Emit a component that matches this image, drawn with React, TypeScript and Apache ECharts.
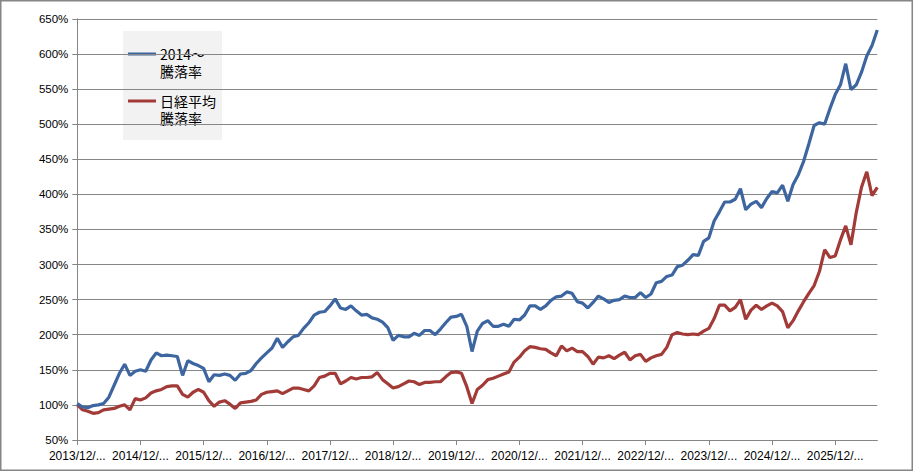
import React, { useEffect, useRef } from 'react';
import * as echarts from 'echarts';

// Monthly samples (index 0 = 2013/12)
const startYear = 2013;
const startMonth = 12;

const seriesNames = ['2014～騰落率', '日経平均騰落率'];
const legendLines1 = ['2014～', '騰落率'];
const legendLines2 = ['日経平均', '騰落率'];

const blueValues = [
  102, 97, 96, 99, 100, 102, 111, 128, 145, 158,
  142, 148, 150, 148, 164, 174, 170, 171, 170, 169,
  142, 163, 159, 156, 152, 133, 143, 142, 144, 142,
  135, 144, 145, 149, 159, 167, 174, 181, 195, 182,
  190, 197, 199, 209, 217, 228, 232, 233, 241, 251,
  238, 236, 241, 234, 228, 229, 224, 222, 218, 210,
  192, 199, 197, 197, 202, 199, 206, 206, 200, 208,
  217, 225, 226, 229, 212, 176, 205, 216, 220, 212,
  212, 215, 212, 222, 221, 228, 241, 241, 236, 241,
  249, 254, 255, 261, 259, 247, 245, 238, 246, 255,
  251, 246, 249, 250, 255, 253, 253, 260, 253, 258,
  274, 276, 283, 285, 297, 299, 306, 314, 313, 333,
  338, 362, 375, 389, 389, 393, 408, 378, 386, 390,
  381, 394, 404, 402, 413, 390, 414, 428, 447, 472,
  498, 502, 500, 522, 542, 556, 586, 549, 556, 574,
  597, 612, 634,
];

const redValues = [
  100, 93, 91, 88, 89, 93, 94, 95, 98, 100,
  93, 109, 107, 110, 117, 120, 122, 126, 127, 127,
  115, 111, 118, 122, 118, 106, 98, 104, 106, 101,
  95, 103, 104, 105, 107, 115, 118, 119, 120, 116,
  120, 124, 124, 122, 120, 127, 139, 141, 145, 145,
  130, 134, 139, 137, 139, 139, 140, 146, 136, 130,
  124, 126, 130, 134, 133, 129, 132, 132, 133, 133,
  140, 146, 147, 145, 126, 102, 122, 128, 136, 138,
  141, 144, 147, 161, 168, 177, 183, 182, 180, 179,
  174, 170, 184, 177, 181, 176, 176, 169, 158, 168,
  167, 170, 166, 171, 175, 164, 170, 172, 162, 167,
  170, 172, 182, 200, 203, 201, 200, 201, 200, 205,
  209, 223, 242, 242, 234, 239, 250, 222, 235, 242,
  236, 241, 245, 241, 233, 210, 220, 234, 247, 259,
  270, 290, 321, 310, 312, 335, 355, 328, 374, 410,
  432, 398, 410,
];

const categories = blueValues.map((_, i) => {
  const m0 = startMonth - 1 + i;
  const y = startYear + Math.floor(m0 / 12);
  const m = (m0 % 12) + 1;
  return `${y}/${String(m).padStart(2, '0')}/01`;
});

const yTicks = { min: 50, max: 650, interval: 50 };

const BLUE = '#3d66a1';
const RED = '#a23b38';
const GRAY = '#868686';

const legendText = (text: string, y: number) => ({
  type: 'text',
  x: 160,
  y,
  style: {
    text,
    fill: '#000',
    fontSize: 14,
    lineHeight: 15,
    fontFamily: 'Noto Sans CJK JP, sans-serif',
    verticalAlign: 'middle',
    align: 'left',
  },
});

export default function App() {
  const ref = useRef<HTMLDivElement>(null);
  useEffect(() => {
    if (!ref.current) return;
    const chart = echarts.init(ref.current, undefined, { renderer: 'svg' });
    chart.setOption({
      animation: false,
      backgroundColor: '#ffffff',
      grid: { left: 77.3, right: 36.7, top: 18.8, bottom: 31, containLabel: false },
      xAxis: {
        type: 'category',
        data: categories,
        boundaryGap: false,
        axisLine: { lineStyle: { color: GRAY, width: 1 } },
        axisTick: { show: true, interval: 11, length: 5, lineStyle: { color: GRAY } },
        axisLabel: {
          interval: 11,
          margin: 10,
          color: '#000',
          fontFamily: 'Liberation Sans, Arial, sans-serif',
          fontSize: 12,
          formatter: (v: string) => v.slice(0, 8) + '...',
        },
        splitLine: { show: false },
      },
      yAxis: {
        type: 'value',
        min: yTicks.min,
        max: yTicks.max,
        interval: yTicks.interval,
        axisLine: { show: true, lineStyle: { color: GRAY, width: 1 } },
        axisTick: { show: true, length: 5, lineStyle: { color: GRAY } },
        axisLabel: {
          margin: 9,
          color: '#000',
          fontFamily: 'Liberation Sans, Arial, sans-serif',
          fontSize: 11.5,
          formatter: '{value}%',
        },
        splitLine: { show: true, lineStyle: { color: GRAY, width: 1 } },
      },
      series: [
        {
          name: seriesNames[0],
          type: 'line',
          data: blueValues,
          showSymbol: false,
          symbol: 'none',
          lineStyle: { color: BLUE, width: 3.2 },
          itemStyle: { color: BLUE },
          z: 3,
        },
        {
          name: seriesNames[1],
          type: 'line',
          data: redValues,
          showSymbol: false,
          symbol: 'none',
          lineStyle: { color: RED, width: 3.2 },
          itemStyle: { color: RED },
          z: 2,
        },
      ],
      graphic: [
        {
          type: 'rect',
          z: 0,
          silent: true,
          shape: { x: 0.75, y: 0.75, width: 911.5, height: 469.5 },
          style: { fill: 'none', stroke: GRAY, lineWidth: 1.5 },
        },
        {
          type: 'group',
          z: 100,
          children: [
            {
              type: 'rect',
              shape: { x: 123, y: 31, width: 99, height: 109 },
              style: { fill: '#f2f2f2' },
            },
            {
              type: 'line',
              shape: { x1: 128, y1: 54, x2: 156, y2: 54 },
              style: { stroke: BLUE, lineWidth: 3 },
            },
            legendText(legendLines1[0], 54),
            legendText(legendLines1[1], 71),
            {
              type: 'line',
              shape: { x1: 128, y1: 101, x2: 156, y2: 101 },
              style: { stroke: RED, lineWidth: 3 },
            },
            legendText(legendLines2[0], 101),
            legendText(legendLines2[1], 117.5),
          ],
        },
      ],
    });
    return () => chart.dispose();
  }, []);
  return (
    <div
      ref={ref}
      style={{ position: 'absolute', left: 0, top: 0, width: 914, height: 471 }}
    />
  );
}
